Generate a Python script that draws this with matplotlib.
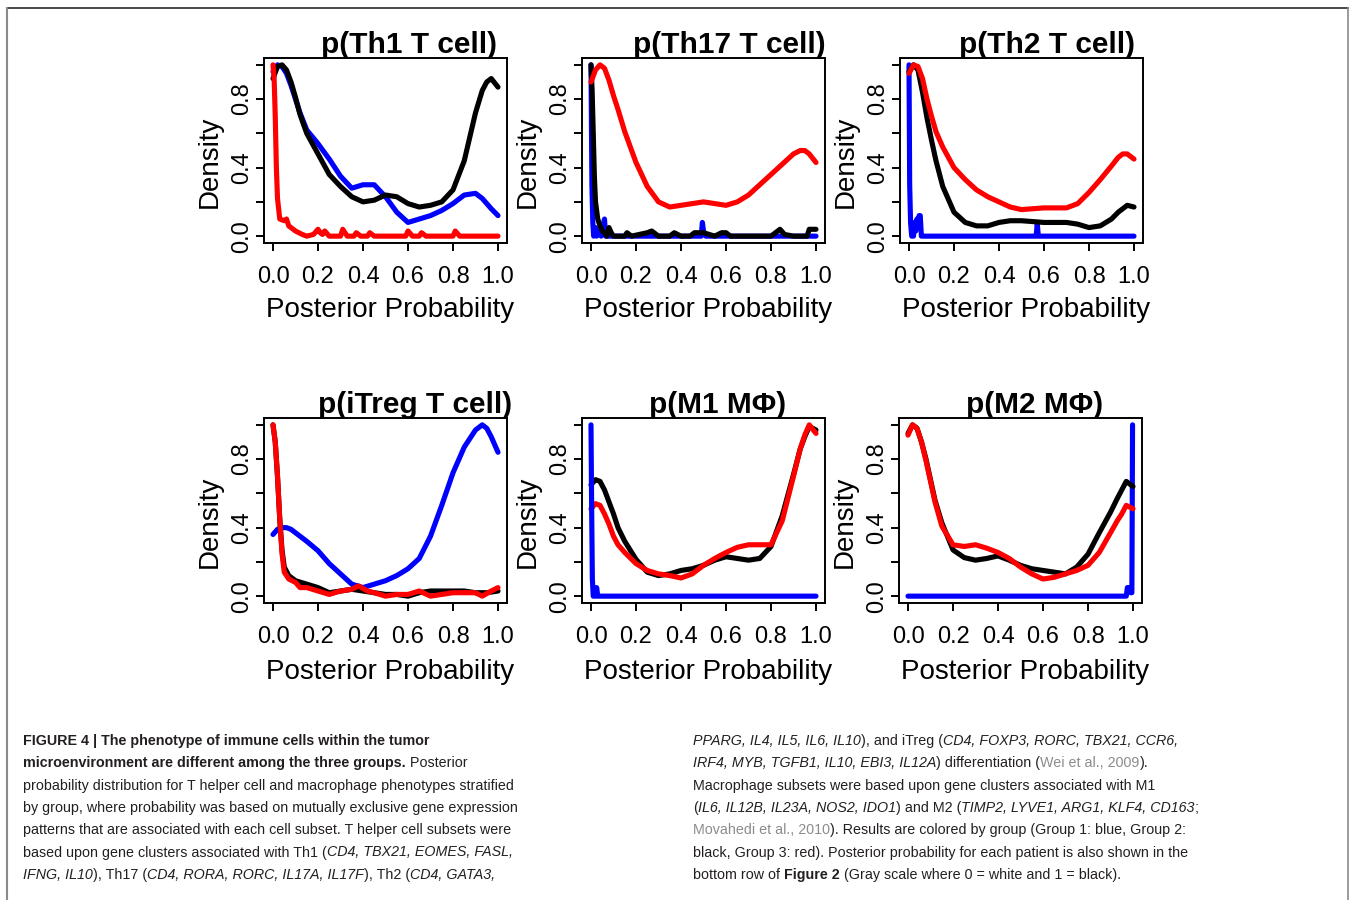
import numpy as np
import matplotlib
matplotlib.use('Agg')
import matplotlib.pyplot as plt
from matplotlib import font_manager
from matplotlib.font_manager import FontProperties
from matplotlib.lines import Line2D

# shared grid for the smooth density curves
gx = [0.0, 0.02, 0.04, 0.06, 0.08, 0.10, 0.12, 0.15, 0.20, 0.25, 0.30, 0.35, 0.40, 0.45,
      0.50, 0.55, 0.60, 0.65, 0.70, 0.75, 0.80, 0.85, 0.90, 0.93, 0.95, 0.97, 1.0]

# Th1
th1_blue = [0.96, 1.0, 0.99, 0.95, 0.88, 0.80, 0.72, 0.62, 0.54, 0.45, 0.35, 0.28, 0.30, 0.30,
            0.23, 0.14, 0.08, 0.10, 0.12, 0.15, 0.19, 0.24, 0.25, 0.22, 0.19, 0.16, 0.12]
th1_black = [0.92, 0.99, 1.0, 0.97, 0.90, 0.81, 0.71, 0.60, 0.48, 0.36, 0.29, 0.23, 0.20, 0.21,
             0.24, 0.23, 0.19, 0.17, 0.18, 0.20, 0.27, 0.44, 0.72, 0.85, 0.90, 0.92, 0.87]
th1_red_x = [0, 0.005, 0.01, 0.015, 0.02, 0.03, 0.05, 0.06, 0.07, 0.1, 0.13, 0.15, 0.18, 0.2,
             0.21, 0.22, 0.23, 0.25, 0.3, 0.31, 0.33, 0.36, 0.37, 0.39, 0.42, 0.43, 0.45, 0.59,
             0.6, 0.62, 0.65, 0.66, 0.68, 0.8, 0.81, 0.83, 1.0]
th1_red = [1.0, 0.92, 0.7, 0.4, 0.22, 0.1, 0.09, 0.1, 0.06, 0.03, 0.01, 0.0, 0.01, 0.04,
           0.02, 0.01, 0.03, 0.0, 0.0, 0.04, 0.0, 0.0, 0.02, 0.0, 0.0, 0.02, 0.0, 0.0,
           0.03, 0.0, 0.0, 0.02, 0.0, 0.0, 0.03, 0.0, 0.0]

# Th17
th17_blue_x = [0, 0.004, 0.008, 0.012, 0.02, 0.025, 0.035, 0.045, 0.055, 0.06, 0.065, 0.075,
               0.49, 0.495, 0.5, 0.51, 1.0]
th17_blue = [1.0, 0.3, 0.08, 0.0, 0.05, 0.0, 0.03, 0.0, 0.07, 0.1, 0.0, 0.0,
             0.0, 0.08, 0.03, 0.0, 0.0]
th17_black_x = [0, 0.005, 0.01, 0.015, 0.02, 0.03, 0.04, 0.05, 0.06, 0.07, 0.08, 0.09, 0.1,
                0.12, 0.15, 0.16, 0.18, 0.25, 0.27, 0.3, 0.35, 0.37, 0.4, 0.44, 0.46, 0.5,
                0.55, 0.58, 0.6, 0.62, 0.8, 0.82, 0.84, 0.86, 0.9, 0.96, 0.97, 1.0]
th17_black = [1.0, 0.85, 0.6, 0.35, 0.2, 0.1, 0.06, 0.03, 0.02, 0.0, 0.05, 0.02, 0.0,
              0.0, 0.0, 0.02, 0.0, 0.02, 0.03, 0.0, 0.0, 0.02, 0.0, 0.0, 0.02, 0.02,
              0.0, 0.02, 0.02, 0.0, 0.0, 0.02, 0.04, 0.01, 0.0, 0.0, 0.04, 0.04]
th17_red = [0.90, 0.97, 1.0, 0.98, 0.91, 0.82, 0.74, 0.61, 0.43, 0.29, 0.20, 0.17, 0.18, 0.19,
            0.20, 0.19, 0.18, 0.20, 0.24, 0.30, 0.36, 0.42, 0.48, 0.50, 0.50, 0.48, 0.43]

# Th2
th2_blue_x = [0, 0.003, 0.007, 0.012, 0.02, 0.025, 0.03, 0.035, 0.04, 0.045, 0.05, 0.055,
              0.06, 0.565, 0.57, 0.575, 1.0]
th2_blue = [1.0, 0.3, 0.08, 0.0, 0.0, 0.08, 0.03, 0.1, 0.05, 0.12, 0.12, 0.0,
            0.0, 0.0, 0.07, 0.0, 0.0]
th2_black = [0.96, 1.0, 0.97, 0.84, 0.69, 0.56, 0.44, 0.29, 0.14, 0.08, 0.06, 0.06, 0.08, 0.09,
             0.09, 0.085, 0.08, 0.08, 0.08, 0.07, 0.05, 0.06, 0.10, 0.14, 0.16, 0.18, 0.17]
th2_red = [0.95, 1.0, 0.99, 0.92, 0.80, 0.70, 0.61, 0.52, 0.40, 0.33, 0.27, 0.23, 0.20, 0.17,
           0.155, 0.16, 0.165, 0.165, 0.165, 0.19, 0.255, 0.33, 0.41, 0.46, 0.48, 0.48, 0.45]

# iTreg
itreg_blue = [0.36, 0.39, 0.40, 0.40, 0.39, 0.37, 0.35, 0.32, 0.265, 0.19, 0.13, 0.07, 0.05, 0.07,
              0.09, 0.12, 0.16, 0.22, 0.35, 0.53, 0.72, 0.87, 0.97, 1.0, 0.98, 0.93, 0.84]
itreg_black_x = [0, 0.01, 0.02, 0.03, 0.04, 0.05, 0.07, 0.1, 0.15, 0.2, 0.25, 0.3, 0.35, 0.4,
                 0.45, 0.5, 0.55, 0.6, 0.65, 0.7, 0.75, 0.8, 0.85, 0.9, 0.95, 1.0]
itreg_black = [1.0, 0.9, 0.7, 0.45, 0.27, 0.17, 0.12, 0.09, 0.07, 0.05, 0.02, 0.03, 0.04, 0.03,
               0.02, 0.01, 0.01, 0.0, 0.02, 0.03, 0.03, 0.03, 0.03, 0.02, 0.02, 0.03]
itreg_red_x = [0, 0.01, 0.02, 0.03, 0.04, 0.05, 0.07, 0.1, 0.12, 0.15, 0.2, 0.25, 0.3, 0.35,
               0.38, 0.42, 0.45, 0.5, 0.55, 0.6, 0.65, 0.7, 0.75, 0.8, 0.85, 0.9, 0.93, 0.97, 1.0]
itreg_red = [1.0, 0.9, 0.7, 0.45, 0.25, 0.14, 0.1, 0.08, 0.05, 0.05, 0.03, 0.01, 0.03, 0.04,
             0.06, 0.03, 0.02, 0.0, 0.01, 0.01, 0.03, 0.0, 0.01, 0.02, 0.02, 0.02, 0.0, 0.03, 0.05]

# M1
m1_blue_x = [0, 0.003, 0.006, 0.01, 0.02, 0.025, 0.03, 1.0]
m1_blue = [1.0, 0.5, 0.1, 0.0, 0.0, 0.05, 0.0, 0.0]
m1_black = [0.65, 0.68, 0.67, 0.62, 0.55, 0.48, 0.40, 0.32, 0.215, 0.14, 0.12, 0.13, 0.15, 0.16,
            0.18, 0.21, 0.23, 0.22, 0.21, 0.22, 0.29, 0.47, 0.71, 0.86, 0.93, 0.99, 0.97]
m1_red = [0.51, 0.54, 0.53, 0.48, 0.42, 0.35, 0.30, 0.255, 0.19, 0.15, 0.13, 0.12, 0.106, 0.13,
          0.18, 0.22, 0.255, 0.285, 0.30, 0.30, 0.30, 0.44, 0.70, 0.86, 0.94, 1.0, 0.95]

# M2
m2_blue_x = [0, 0.97, 0.975, 0.985, 0.99, 0.995, 0.998]
m2_blue = [0.0, 0.0, 0.05, 0.05, 0.02, 0.02, 1.0]
m2_black = [0.95, 1.0, 0.98, 0.90, 0.80, 0.68, 0.56, 0.43, 0.27, 0.225, 0.21, 0.22, 0.235, 0.21,
            0.18, 0.16, 0.15, 0.14, 0.13, 0.17, 0.245, 0.37, 0.49, 0.57, 0.62, 0.67, 0.64]
m2_red = [0.94, 1.0, 0.98, 0.90, 0.79, 0.67, 0.55, 0.41, 0.30, 0.29, 0.30, 0.28, 0.255, 0.22,
          0.17, 0.13, 0.10, 0.11, 0.13, 0.15, 0.18, 0.255, 0.37, 0.44, 0.48, 0.53, 0.51]

titles = ['p(Th1 T cell)', 'p(Th17 T cell)', 'p(Th2 T cell)',
          'p(iTreg T cell)', 'p(M1 M\u03a6)', 'p(M2 M\u03a6)']
tick_vals = [0.0, 0.2, 0.4, 0.6, 0.8, 1.0]
xtick_labels = ['0.0', '0.2', '0.4', '0.6', '0.8', '1.0']
ytick_labels = ['0.0', '', '0.4', '', '0.8', '']

curves = [
    [(gx, th1_blue, 'blue'), (gx, th1_black, 'black'), (th1_red_x, th1_red, 'red')],
    [(th17_blue_x, th17_blue, 'blue'), (th17_black_x, th17_black, 'black'), (gx, th17_red, 'red')],
    [(th2_blue_x, th2_blue, 'blue'), (gx, th2_black, 'black'), (gx, th2_red, 'red')],
    [(gx, itreg_blue, 'blue'), (itreg_black_x, itreg_black, 'black'), (itreg_red_x, itreg_red, 'red')],
    [(gx, m1_black, 'black'), (gx, m1_red, 'red'), (m1_blue_x, m1_blue, 'blue')],
    [(m2_blue_x, m2_blue, 'blue'), (gx, m2_black, 'black'), (gx, m2_red, 'red')],
]

W, H = 1349, 900
plt.rcParams['font.family'] = 'Liberation Sans'
fig = plt.figure(figsize=(W / 100, H / 100), dpi=100)

# axes boxes in pixels: left, top, right, bottom
boxes = [(264, 58, 507, 243), (582, 58, 825, 243), (900, 58, 1143, 243),
         (264, 418, 507, 603), (582, 418, 825, 603), (899, 418, 1142, 603)]
title_pos = [0.595, 0.605, 0.603, 0.621, 0.558, 0.558]

for i, (l, t, r, b) in enumerate(boxes):
    ax = fig.add_axes([l / W, 1 - b / H, (r - l) / W, (b - t) / H])
    for x, y, c in curves[i]:
        ax.plot(x, y, color=c, lw=3.7, solid_joinstyle='round', solid_capstyle='round')
    ax.set_xlim(-0.04, 1.04)
    ax.set_ylim(-0.04, 1.04)
    ax.set_xticks(tick_vals)
    ax.set_xticklabels(xtick_labels)
    ax.set_yticks(tick_vals)
    ax.set_yticklabels(ytick_labels)
    ax.tick_params(axis='both', direction='out', length=5.5, width=1.4, labelsize=17)
    ax.tick_params(axis='x', pad=11)
    ax.tick_params(axis='y', pad=2.5)
    plt.setp(ax.get_yticklabels(), rotation=90, va='center')
    for sp in ax.spines.values():
        sp.set_linewidth(1.4)
    ax.set_xlabel('Posterior Probability', fontsize=20)
    ax.xaxis.set_label_coords(0.52, -0.29 if i < 3 else -0.305)
    ax.set_ylabel('Density', fontsize=20)
    ax.yaxis.set_label_coords(-0.169, 0.44)
    ax.text(title_pos[i], 1.027, titles[i], transform=ax.transAxes, ha='center',
            va='baseline', fontsize=21.5, fontweight='bold')

# caption -----------------------------------------------------------------
try:
    font_manager.findfont('Liberation Sans Narrow', fallback_to_default=False)
    cap_family = 'Liberation Sans Narrow'
except Exception:
    cap_family = 'Liberation Sans'

ink = '#231f20'
grey = '#8c8c8c'
styles = {
    'n': dict(color=ink),
    'b': dict(color=ink, fontweight='bold'),
    'i': dict(color=ink, fontstyle='italic'),
    'g': dict(color=grey),
}

renderer = fig.canvas.get_renderer()


def text_width(s, style, size):
    kw = styles[style]
    prop = FontProperties(family=cap_family, size=size,
                          weight=kw.get('fontweight', 'normal'),
                          style=kw.get('fontstyle', 'normal'))
    w1 = renderer.get_text_width_height_descent(s + 'x', prop, ismath=False)[0]
    w2 = renderer.get_text_width_height_descent('x', prop, ismath=False)[0]
    return w1 - w2


ref_line = 'probability distribution for T helper cell and macrophage phenotypes stratified'
cap_size = 12 * 486 / text_width(ref_line, 'n', 12)

left_lines = [
    [('FIGURE 4 | The phenotype of immune cells within the tumor', 'b')],
    [('microenvironment are different among the three groups.', 'b'), (' Posterior', 'n')],
    [(ref_line, 'n')],
    [('by group, where probability was based on mutually exclusive gene expression', 'n')],
    [('patterns that are associated with each cell subset. T helper cell subsets were', 'n')],
    [('based upon gene clusters associated with Th1 (', 'n'), ('CD4, TBX21, EOMES, FASL,', 'i')],
    [('IFNG, IL10', 'i'), ('), Th17 (', 'n'), ('CD4, RORA, RORC, IL17A, IL17F', 'i'),
     ('), Th2 (', 'n'), ('CD4, GATA3,', 'i')],
]
right_lines = [
    [('PPARG, IL4, IL5, IL6, IL10', 'i'), ('), and iTreg (', 'n'),
     ('CD4, FOXP3, RORC, TBX21, CCR6,', 'i')],
    [('IRF4, MYB, TGFB1, IL10, EBI3, IL12A', 'i'), (') differentiation (', 'n'),
     ('Wei et al., 2009', 'g'), (').', 'n')],
    [('Macrophage subsets were based upon gene clusters associated with M1', 'n')],
    [('(', 'n'), ('IL6, IL12B, IL23A, NOS2, IDO1', 'i'), (') and M2 (', 'n'),
     ('TIMP2, LYVE1, ARG1, KLF4, CD163', 'i'), (';', 'n')],
    [('Movahedi et al., 2010', 'g'), ('). Results are colored by group (Group 1: blue, Group 2:', 'n')],
    [('black, Group 3: red). Posterior probability for each patient is also shown in the', 'n')],
    [('bottom row of ', 'n'), ('Figure 2', 'b'), (' (Gray scale where 0 = white and 1 = black).', 'n')],
]


def draw_column(x0, y0, lines, step=22.3):
    for k, runs in enumerate(lines):
        x = x0
        y = y0 + k * step
        for s, st in runs:
            fig.text(x / W, 1 - y / H, s, fontsize=cap_size, family=cap_family,
                     ha='left', va='baseline', **styles[st])
            x += text_width(s, st, cap_size)


draw_column(23, 745, left_lines)
draw_column(693, 745, right_lines)

# page frame
fig.add_artist(Line2D([7 / W, 1348 / W], [1 - 8 / H, 1 - 8 / H], color='#2a2a2a', lw=1.2))
fig.add_artist(Line2D([7 / W, 7 / W], [1 - 8 / H, 0], color='#8a8a8a', lw=1.5))
fig.add_artist(Line2D([1347.5 / W, 1347.5 / W], [1 - 8 / H, 0], color='#8a8a8a', lw=1.2))

fig.savefig('out.png', dpi=100)
